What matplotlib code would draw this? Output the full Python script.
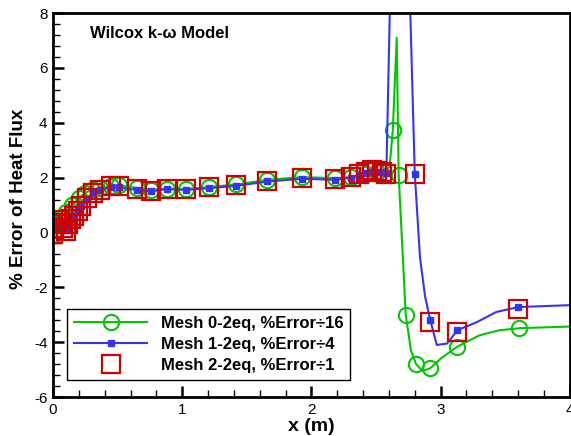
import matplotlib

matplotlib.use("Agg")
import matplotlib.pyplot as plt
import numpy as np
from matplotlib.lines import Line2D
from matplotlib.ticker import MultipleLocator

plt.rcParams["font.family"] = ["Liberation Sans", "DejaVu Sans"]
plt.rcParams["axes.unicode_minus"] = False

GREEN = "#00c800"
BLUE = "#3333ff"
RED = "#d00000"

# Mesh 0 (coarse), error scaled by 1/16
mesh0_x = [0.0, 0.03, 0.06, 0.10, 0.15, 0.20, 0.25, 0.30, 0.36, 0.45, 0.51, 0.65, 0.76,
           0.88, 1.03, 1.21, 1.42, 1.66, 1.93, 2.18, 2.31, 2.42, 2.51, 2.58, 2.605, 2.63,
           2.66, 2.675, 2.73, 2.77, 2.81, 2.86, 2.92, 3.0, 3.13, 3.3, 3.45, 3.61, 4.0]
mesh0_err = [-0.1, 0.35, 0.55, 0.75, 1.0, 1.25, 1.45, 1.55, 1.62, 1.70, 1.72, 1.62, 1.55,
             1.60, 1.58, 1.66, 1.75, 1.92, 2.02, 1.98, 2.02, 2.15, 2.22, 2.25, 2.4, 3.73,
             7.1, 2.1, -3.0, -4.3, -4.8, -5.05, -4.95, -4.6, -4.16, -3.75, -3.57, -3.49, -3.43]
mesh0_marks = [0.0, 0.03, 0.06, 0.10, 0.15, 0.20, 0.25, 0.30, 0.36, 0.45, 0.51, 0.65, 0.76,
               0.88, 1.03, 1.21, 1.42, 1.66, 1.93, 2.18, 2.31, 2.42, 2.51, 2.63, 2.675,
               2.73, 2.81, 2.92, 3.13, 3.61]

# Mesh 1 (medium), error scaled by 1/4
mesh1_x = [0.0, 0.01, 0.02, 0.04, 0.06, 0.08, 0.10, 0.12, 0.14, 0.16, 0.19, 0.22, 0.26,
           0.31, 0.36, 0.45, 0.51, 0.65, 0.76, 0.88, 1.03, 1.21, 1.42, 1.66, 1.93, 2.18,
           2.31, 2.37, 2.42, 2.47, 2.51, 2.55, 2.58, 2.675, 2.80, 2.84, 2.88, 2.92, 2.97,
           3.05, 3.13, 3.28, 3.43, 3.60, 4.0]
mesh1_err = [-0.55, 0.10, 0.35, 0.45, 0.35, 0.22, 0.10, 0.32, 0.50, 0.60, 0.78, 0.96, 1.22,
             1.45, 1.56, 1.64, 1.64, 1.55, 1.50, 1.58, 1.55, 1.62, 1.70, 1.86, 1.96, 1.92,
             2.00, 2.10, 2.18, 2.22, 2.22, 2.20, 2.18, 23.2, 2.12, -0.9, -2.35, -3.2, -4.1,
             -4.05, -3.56, -3.27, -2.9, -2.72, -2.65]
mesh1_marks = [0.01, 0.02, 0.04, 0.06, 0.08, 0.10, 0.12, 0.14, 0.16, 0.19, 0.22, 0.26,
               0.31, 0.36, 0.45, 0.51, 0.65, 0.76, 0.88, 1.03, 1.21, 1.42, 1.66, 1.93,
               2.18, 2.31, 2.37, 2.42, 2.47, 2.51, 2.55, 2.58, 2.80, 2.92, 3.13, 3.60]

# Mesh 2 (fine), unscaled error, symbols only
mesh2_x = [0.0, 0.01, 0.02, 0.04, 0.06, 0.08, 0.10, 0.12, 0.14, 0.16, 0.19, 0.22, 0.26,
           0.31, 0.36, 0.45, 0.51, 0.65, 0.76, 0.88, 1.03, 1.21, 1.42, 1.66, 1.93, 2.18,
           2.31, 2.37, 2.42, 2.47, 2.51, 2.55, 2.58, 2.80, 2.92, 3.13, 3.60]
mesh2_err = [-0.05, 0.12, 0.35, 0.45, 0.32, 0.18, 0.06, 0.30, 0.50, 0.60, 0.80, 0.98, 1.25,
             1.45, 1.55, 1.70, 1.70, 1.58, 1.52, 1.60, 1.58, 1.66, 1.74, 1.88, 1.98, 1.95,
             2.03, 2.12, 2.22, 2.27, 2.25, 2.20, 2.15, 2.12, -3.25, -3.62, -2.78]

fig = plt.figure(figsize=(5.71, 4.36), dpi=100)
ax = fig.add_axes([0.0928, 0.0894, 0.9052, 0.8806])

ax.plot(mesh0_x, mesh0_err, "-", c=GREEN, lw=1.5, marker="o", ms=11, mfc="none",
        mec=GREEN, mew=1.5, markevery=list(np.isin(mesh0_x, mesh0_marks)))
ax.plot(mesh1_x, mesh1_err, "-", c=BLUE, lw=1.5, marker="s", ms=5, mfc=BLUE,
        mec=BLUE, markevery=list(np.isin(mesh1_x, mesh1_marks)))
ax.plot(mesh2_x, mesh2_err, ls="none", marker="s", ms=12.5, mfc="none", mec=RED, mew=1.6)

ax.set_xlim(0, 4)
ax.set_ylim(-6, 8)
ax.xaxis.set_major_locator(MultipleLocator(1))
ax.xaxis.set_minor_locator(MultipleLocator(0.2))
ax.yaxis.set_major_locator(MultipleLocator(2))
ax.yaxis.set_minor_locator(MultipleLocator(0.4))
ax.tick_params(which="both", direction="in", labelsize=11, pad=4)
ax.tick_params(which="major", length=8, width=1.8)
ax.tick_params(which="minor", length=5, width=1)
for spine in ax.spines.values():
    spine.set_linewidth(2)

ax.set_xlabel("x (m)", fontsize=14, fontweight="bold", labelpad=1)
ax.set_ylabel("% Error of Heat Flux", fontsize=13.5, fontweight="bold")
ax.yaxis.set_label_coords(-0.050, 0.517)
ax.text(0.072, 0.948, "Wilcox k-ω Model", transform=ax.transAxes, fontsize=12,
        fontweight="bold", va="center", ha="left")

handles = [
    Line2D([], [], c=GREEN, lw=1.5, marker="o", ms=11, mfc="none", mec=GREEN, mew=1.5),
    Line2D([], [], c=BLUE, lw=1.5, marker="s", ms=5, mfc=BLUE, mec=BLUE),
    Line2D([], [], ls="none", marker="s", ms=12.5, mfc="none", mec=RED, mew=1.6),
]
labels = ["Mesh 0-2eq, %Error÷16", "Mesh 1-2eq, %Error÷4", "Mesh 2-2eq, %Error÷1"]
leg = ax.legend(handles, labels, loc="lower left", bbox_to_anchor=(0.027, 0.044),
                borderaxespad=0, fancybox=False, framealpha=1, edgecolor="black",
                handlelength=4.4, handletextpad=0.8, labelspacing=0.36, borderpad=0.42,
                prop={"weight": "bold", "size": 12})
leg.get_frame().set_linewidth(1)

fig.savefig("out.png", dpi=100)
